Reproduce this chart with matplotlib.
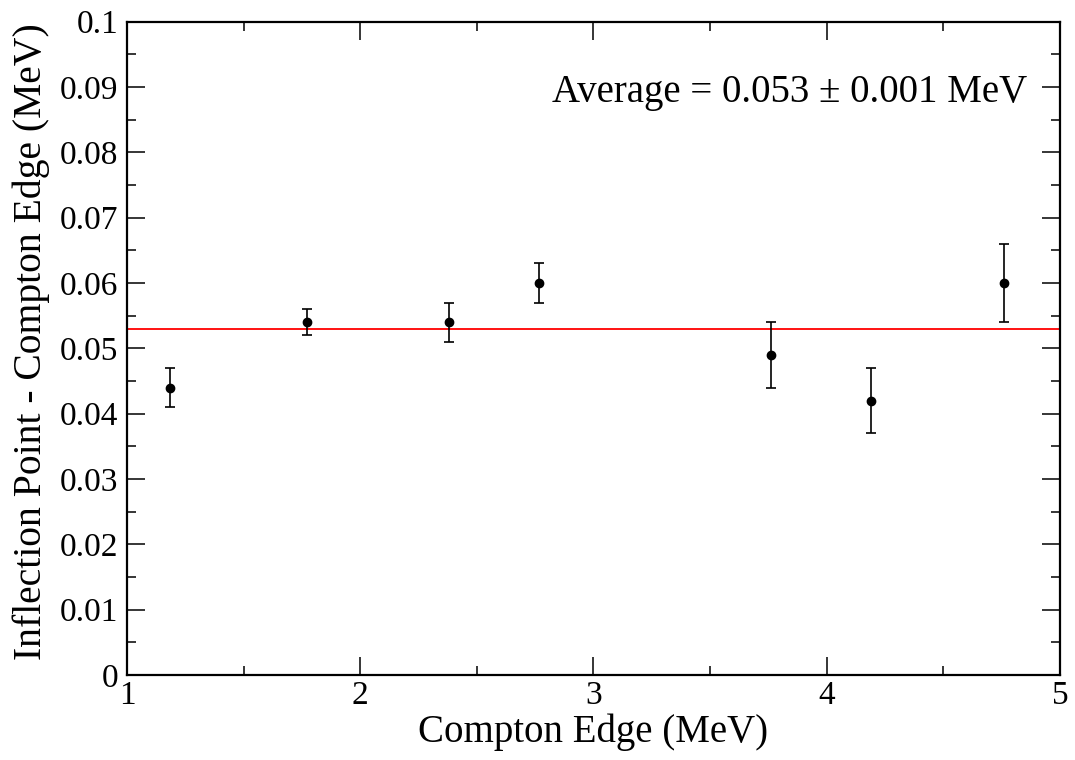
import matplotlib
matplotlib.use("Agg")
import matplotlib.pyplot as plt
from matplotlib.ticker import MultipleLocator, FuncFormatter

plt.rcParams['font.family'] = ['Liberation Serif', 'DejaVu Serif']

# Measured shifts of the inflection point relative to the Compton edge
compton_edge = [1.183, 1.773, 2.382, 2.765, 3.761, 4.189, 4.758]
shift = [0.044, 0.054, 0.054, 0.060, 0.049, 0.042, 0.060]
shift_err = [0.003, 0.002, 0.003, 0.003, 0.005, 0.005, 0.006]
average = 0.053
average_err = 0.001

fig = plt.figure(figsize=(10.75, 7.6), dpi=100)
ax = fig.add_axes([0.1181, 0.1118, 0.8679, 0.8596])

ax.axhline(average, color='red', lw=1.3, zorder=1)
ax.errorbar(compton_edge, shift, yerr=shift_err, fmt='o', color='black',
            ms=6, elinewidth=1.2, capsize=3.5, capthick=1.2, zorder=3)

ax.set_xlim(1, 5)
ax.set_ylim(0, 0.1)
ax.xaxis.set_major_locator(MultipleLocator(1))
ax.xaxis.set_minor_locator(MultipleLocator(0.5))
ax.yaxis.set_major_locator(MultipleLocator(0.01))
ax.yaxis.set_minor_locator(MultipleLocator(0.005))
ax.yaxis.set_major_formatter(FuncFormatter(lambda v, p: f"{v:.2f}".rstrip('0').rstrip('.') if v != 0 else "0"))
ax.xaxis.set_major_formatter(FuncFormatter(lambda v, p: f"{v:g}"))

ax.tick_params(which='both', direction='in', top=True, right=True, labelsize=24)
ax.tick_params(which='major', length=13, width=1.1, pad=6)
ax.tick_params(which='minor', length=6.5, width=1.1)
ax.tick_params(axis='x', which='major', pad=4)
for s in ax.spines.values():
    s.set_linewidth(1.6)

ax.set_xlabel('Compton Edge (MeV)', fontsize=28, labelpad=2)
ax.set_ylabel('Inflection Point - Compton Edge (MeV)', fontsize=28.5, labelpad=4)
ax.yaxis.set_label_coords(-0.083, 0.51)

ax.text(0.965, 0.891, f'Average = {average:.3f} \u00b1 {average_err:.3f} MeV',
        transform=ax.transAxes, ha='right', va='center', fontsize=28)

fig.savefig('out.png', dpi=100)
